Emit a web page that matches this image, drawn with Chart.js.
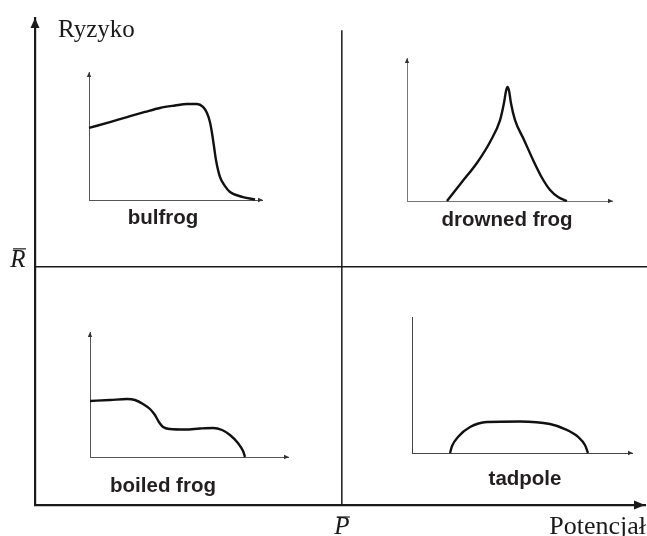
<!DOCTYPE html>
<html><head><meta charset="utf-8">
<script src="https://cdn.jsdelivr.net/npm/chart.js@4"></script>
<style>
html,body{margin:0;padding:0;background:#fff;}
#wrap{position:relative;width:647px;height:536px;overflow:hidden;}
canvas{position:absolute;}
</style></head><body>
<div id="wrap">
<canvas id="main" width="647" height="536" style="left:0;top:0"></canvas>
<canvas id="m1"></canvas><canvas id="m2"></canvas><canvas id="m3"></canvas><canvas id="m4"></canvas>
</div>
<script>
// ---- data ----
const axisLabels = { y: "Ryzyko", x: "Potencjał" };
const meanLabels = { p: "P", r: "R" };
const P_BAR = 0.503;   // mean potential (fraction of x range)
const R_BAR = 0.489;   // mean risk (fraction of y range)
const P_LINE_TOP = 0.975;
const R_LINE_END = 1.004;

const miniNames = ["bulfrog", "drowned frog", "boiled frog", "tadpole"];

const bulfrogX = [0,12.1,22,32.4,41,49.7,56.6,62.4,65.9,68.2,69.9,71.1,72.3,73.4,75.7,78.6,81.5,89,96];
const bulfrogY = [56.3,60.9,64.8,68.8,71.9,73.8,75,75,72.7,68,60.9,52.3,41.4,31.3,18,10.9,6.3,2.3,0.4];

const drownedX = [19.5,26.8,34.1,40.5,45.4,47.3,48.3,49,49.8,50.7,52.7,57.1,61.5,65.9,69.8,73.7,78];
const drownedY = [0,13.3,26.6,41.3,56.6,68.5,76.9,79.7,76.9,68.5,56.6,42.7,28.7,16.1,7.7,2.8,0];

const boiledX = [0,10.1,18.7,22.7,26.8,30.3,32.8,34.8,36.9,40.4,48,55.6,62.1,66.7,70.7,74.7,77.3,78.3];
const boiledY = [44.8,45.6,46.4,45.6,42.4,38.4,33.6,28,24,22.4,22,22.8,23.2,21.6,17.6,11.2,4.8,0];

const tadpoleX = [17.3,18.2,20.9,26.4,34.1,49.1,62.7,69.5,75.5,78.6,80];
const tadpoleY = [0,5.1,11.8,19.1,22.8,23.2,21.3,17.6,11.8,5.9,0];

// ---- helpers ----
function pts(xs, ys){ return xs.map((x,i)=>({x:x, y:ys[i]})); }
function tri(ctx, tipX, tipY, dir, len, half){
  ctx.beginPath();
  if(dir==='up'){ ctx.moveTo(tipX,tipY); ctx.lineTo(tipX-half,tipY+len); ctx.lineTo(tipX+half,tipY+len); }
  else { ctx.moveTo(tipX,tipY); ctx.lineTo(tipX-len,tipY-half); ctx.lineTo(tipX-len,tipY+half); }
  ctx.closePath(); ctx.fill();
}
const hiddenScale = (color, width) => ({
  type:'linear', min:0,
  grid:{ display:false, drawTicks:false, tickLength:0 },
  ticks:{ display:false, padding:0 },
  border:{ color:color, width:width }
});

// ---- main chart ----
const mainPlugin = {
  id:'mainDeco',
  afterDraw(chart){
    const ctx = chart.ctx, a = chart.chartArea, sx = chart.scales.x, sy = chart.scales.y;
    ctx.save();
    ctx.fillStyle = '#1a1a1a';
    tri(ctx, a.left, a.top, 'up', 10, 4.5);
    tri(ctx, a.right, a.bottom, 'right', 11, 4.5);
    ctx.textBaseline = 'alphabetic';
    ctx.font = '25px "Liberation Serif", "Times New Roman", serif';
    ctx.textAlign = 'left';
    ctx.fillText(axisLabels.y, 58, 37);
    ctx.textAlign = 'right';
    ctx.font = '26px "Liberation Serif", "Times New Roman", serif';
    ctx.fillText(axisLabels.x, 646, 534);
    // mean labels
    ctx.font = 'italic 25px "Liberation Serif", "Times New Roman", serif';
    ctx.textAlign = 'center';
    const px = sx.getPixelForValue(P_BAR);
    ctx.fillText(meanLabels.p, px, 534);
    const ry = sy.getPixelForValue(R_BAR);
    ctx.fillText(meanLabels.r, 18, ry);
    ctx.strokeStyle = '#1a1a1a'; ctx.lineWidth = 1.2;
    ctx.beginPath(); ctx.moveTo(px-5, 517); ctx.lineTo(px+8, 517); ctx.stroke();
    ctx.beginPath(); ctx.moveTo(13, ry-18); ctx.lineTo(26, ry-18); ctx.stroke();
    // mini chart titles
    ctx.font = 'bold 20.5px "Liberation Sans", Arial, sans-serif';
    ctx.fillStyle = '#231f20';
    ctx.fillText(miniNames[0], 163, 224);
    ctx.fillText(miniNames[1], 507, 226);
    ctx.fillText(miniNames[2], 163, 492);
    ctx.fillText(miniNames[3], 525, 485);
    ctx.restore();
  }
};

new Chart(document.getElementById('main'), {
  type:'line',
  data:{ datasets:[
    { data:[{x:P_BAR,y:0},{x:P_BAR,y:P_LINE_TOP}], borderColor:'#1a1a1a', borderWidth:1.5, pointRadius:0, clip:false },
    { data:[{x:0,y:R_BAR},{x:R_LINE_END,y:R_BAR}], borderColor:'#1a1a1a', borderWidth:1.5, pointRadius:0, clip:false }
  ]},
  options:{
    responsive:false, animation:false, devicePixelRatio:1,
    layout:{ padding:{ left:35, top:18, right:2, bottom:31 } },
    plugins:{ legend:{display:false}, tooltip:{enabled:false} },
    scales:{
      x:Object.assign(hiddenScale('#1a1a1a', 2.2), {max:1}),
      y:Object.assign(hiddenScale('#1a1a1a', 2.2), {max:1})
    }
  },
  plugins:[mainPlugin]
});

// ---- mini charts ----
const miniArrow = {
  id:'miniArrow',
  afterDraw(chart, args, opts){
    const ctx = chart.ctx, a = chart.chartArea;
    ctx.save(); ctx.fillStyle = '#333';
    if(opts.up) tri(ctx, a.left, a.top, 'up', 5, 2.2);
    tri(ctx, a.right+1, a.bottom, 'right', 5, 2.2);
    ctx.restore();
  }
};

function mini(id, box, xs, ys, up, axisColor){
  const pad = 10;
  const c = document.getElementById(id);
  const w = box.x1 - box.x0 + 2*pad, h = box.y0 - box.y1 + 2*pad;
  c.width = w; c.height = h;
  c.style.left = (box.x0 - pad) + 'px'; c.style.top = (box.y1 - pad) + 'px';
  new Chart(c, {
    type:'line',
    data:{ datasets:[{ data:pts(xs, ys), borderColor:'#111', borderWidth:2.4, pointRadius:0, cubicInterpolationMode:'monotone', clip:false }]},
    options:{
      responsive:false, animation:false, devicePixelRatio:1,
      layout:{ padding:{ left:pad, right:pad, top:pad, bottom:pad } },
      plugins:{ legend:{display:false}, tooltip:{enabled:false}, miniArrow:{ up:up } },
      scales:{
        x:Object.assign(hiddenScale(axisColor, 1), {max:100}),
        y:Object.assign(hiddenScale(axisColor, 1), {max:100})
      }
    },
    plugins:[miniArrow]
  });
}

mini('m1', {x0:89, x1:262, y0:200, y1:72}, bulfrogX, bulfrogY, true, '#555');
mini('m2', {x0:407, x1:612, y0:201, y1:58}, drownedX, drownedY, true, '#777');
mini('m3', {x0:90, x1:288, y0:457, y1:332}, boiledX, boiledY, true, '#555');
mini('m4', {x0:412, x1:632, y0:453, y1:317}, tadpoleX, tadpoleY, false, '#444');
</script>
</body></html>
